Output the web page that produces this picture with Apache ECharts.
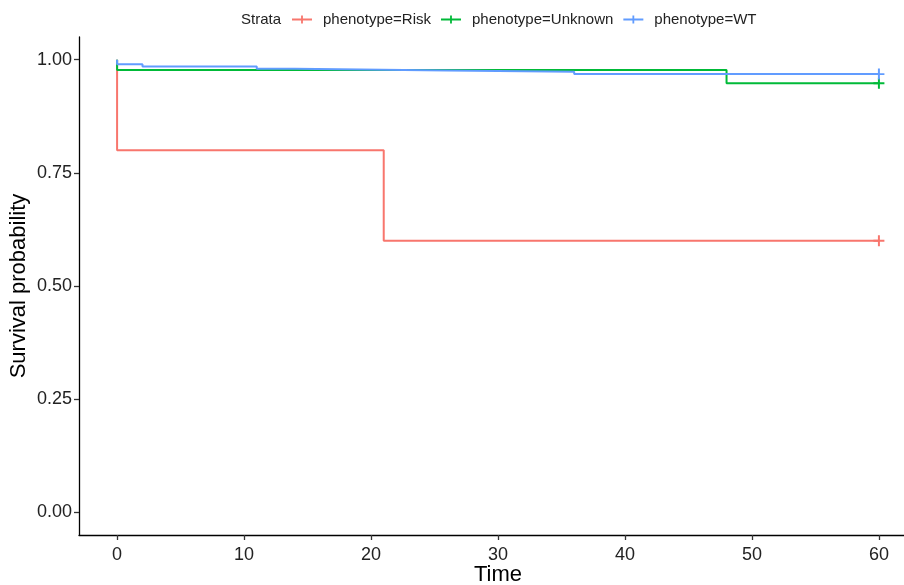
<!DOCTYPE html>
<html><head><meta charset="utf-8">
<script src="https://cdn.jsdelivr.net/npm/echarts@6/dist/echarts.min.js"></script>
<style>html,body{margin:0;padding:0;background:#fff}#c{width:904px;height:585px}</style>
</head><body><div id="c"></div>
<script>
const seriesNames = ['phenotype=Risk', 'phenotype=Unknown', 'phenotype=WT'];
const riskTime = [0, 0, 21, 60];
const riskSurv = [1, 0.8, 0.6, 0.6];
const unknownTime = [0, 0, 48, 60];
const unknownSurv = [1, 0.977, 0.948, 0.948];
const wtTime = [0, 0, 2, 11, 14, 26, 36, 60];
const wtSurv = [1, 0.990, 0.985, 0.980, 0.976, 0.973, 0.968, 0.968];
const censorTime = [60];
const xTicks = [0, 10, 20, 30, 40, 50, 60];
const yTicks = [0, 0.25, 0.5, 0.75, 1];

const colors = ['#F8766D', '#00BA38', '#619CFF'];
const plus = 'path://M0,4.1H10V5.9H0Z M4.1,0H5.9V10H4.1Z';
const legendIcon = 'path://M0,3.1H20V4.9H0Z M9.1,0H10.9V8H9.1Z';
const font = 'Liberation Sans, Arial, sans-serif';

function pairs(t, s) { return t.map((v, i) => [v, s[i]]); }
function survAt(t, s, x) { let v = s[0]; for (let i = 0; i < t.length; i++) if (t[i] <= x) v = s[i]; return v; }

const curves = [[riskTime, riskSurv], [unknownTime, unknownSurv], [wtTime, wtSurv]];
const series = [];
curves.forEach((c, i) => {
  series.push({
    name: seriesNames[i], type: 'line', step: 'end', data: pairs(c[0], c[1]),
    showSymbol: false, lineStyle: { color: colors[i], width: 2 }, itemStyle: { color: colors[i] },
    animation: false, silent: true, z: 2 + i
  });
});
curves.forEach((c, i) => {
  series.push({
    name: seriesNames[i], type: 'scatter', symbol: plus, symbolSize: 11,
    data: censorTime.map(t => [t, survAt(c[0], c[1], t)]),
    itemStyle: { color: colors[i], opacity: 1 }, animation: false, silent: true, z: 5 + i
  });
});

const chart = echarts.init(document.getElementById('c'), null, { renderer: 'canvas' });
chart.setOption({
  backgroundColor: '#fff',
  animation: false,
  color: colors,
  graphic: [{ type: 'text', left: 241, top: 12, style: { text: 'Strata', font: '15px ' + font, fill: '#222' } }],
  legend: {
    left: 292, top: 12, padding: 0, itemWidth: 20, itemHeight: 8, itemGap: 10,
    icon: legendIcon,
    data: seriesNames.map((n, i) => ({ name: n, itemStyle: { color: colors[i] } })),
    textStyle: { fontFamily: font, fontSize: 15, color: '#222', padding: [0, 0, 0, 6] },
    selectedMode: false
  },
  grid: { left: 79, top: 37, width: 838, height: 498, outerBoundsMode: 'none', containLabel: false },
  xAxis: {
    type: 'value', min: -3, max: 63,
    name: 'Time', nameLocation: 'middle', nameGap: 29, nameMoveOverlap: false,
    nameTextStyle: { fontFamily: font, fontSize: 22, color: '#000' },
    axisLine: { onZero: false, lineStyle: { color: '#000', width: 1.3 } },
    axisTick: { show: true, length: 5, customValues: xTicks, lineStyle: { color: '#333', width: 1.3 } },
    axisLabel: { customValues: xTicks, margin: 11, fontFamily: font, fontSize: 18, color: '#222' },
    splitLine: { show: false }
  },
  yAxis: {
    type: 'value', min: -0.05, max: 1.05,
    name: 'Survival probability', nameLocation: 'middle', nameGap: 49, nameMoveOverlap: false,
    nameTextStyle: { fontFamily: font, fontSize: 22, color: '#000' },
    axisLine: { onZero: false, lineStyle: { color: '#000', width: 1.3 } },
    axisTick: { show: true, length: 5, customValues: yTicks, lineStyle: { color: '#333', width: 1.3 } },
    axisLabel: { customValues: yTicks, margin: 7, fontFamily: font, fontSize: 18, color: '#222',
      formatter: v => Number(v).toFixed(2) },
    splitLine: { show: false }
  },
  series: series
});
</script></body></html>
